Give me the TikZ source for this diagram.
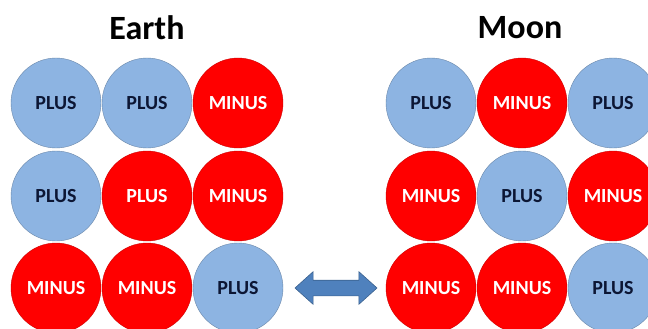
\documentclass[tikz,border=0pt]{standalone}
\usepackage{fontspec}
\setmainfont{Carlito}
\usepackage{tikz}
\usetikzlibrary{arrows.meta}
\usetikzlibrary{calc}
\usetikzlibrary{shapes}

\definecolor{plusblue}{RGB}{141,180,226}
\definecolor{plustext}{RGB}{12,22,52}
\definecolor{minusred}{RGB}{255,0,0}
\definecolor{arrowblue}{RGB}{79,129,189}

\begin{document}
\begin{tikzpicture}[x=1pt, y=-1pt,
        plus_style/.style={circle,draw=plusblue!75!black,line width=0.4pt,fill=plusblue,minimum size=90pt,inner sep=0pt,text=plustext,font=\bfseries\fontsize{20}{20}\selectfont},
        minus_style/.style={circle,draw=minusred!80!black,line width=0.4pt,fill=minusred,minimum size=90pt,inner sep=0pt,text=white,font=\bfseries\fontsize{20}{20}\selectfont},
        title_style/.style={font=\bfseries\fontsize{34}{34}\selectfont},
        swap_style/.style={double arrow,draw=arrowblue!75!black,fill=arrowblue,line width=0.6pt,minimum height=82pt,text height=15pt,text depth=0pt,inner sep=0pt,double arrow head extend=8.5pt,double arrow tip angle=84}]

        \clip (0,0) rectangle (648,329);

        % Earth
        \node [title_style](earth) at (147,28) {Earth};

        \node [plus_style](e1) at (56,103) {PLUS};

        \node [plus_style](e2) at (147,103) {PLUS};

        \node [minus_style](e3) at (238,103) {MINUS};

        \node [plus_style](e4) at (56,196) {PLUS};

        \node [minus_style](e5) at (147,196) {PLUS};

        \node [minus_style](e6) at (238,196) {MINUS};

        \node [minus_style](e7) at (56,288) {MINUS};

        \node [minus_style](e8) at (147,288) {MINUS};

        \node [plus_style](e9) at (238,288) {PLUS};

        % Moon
        \node [title_style](moon) at (520,28) {Moon};

        \node [plus_style](m1) at (431,103) {PLUS};

        \node [minus_style](m2) at (522,103) {MINUS};

        \node [plus_style](m3) at (613,103) {PLUS};

        \node [minus_style](m4) at (431,196) {MINUS};

        \node [plus_style](m5) at (522,196) {PLUS};

        \node [minus_style](m6) at (613,196) {MINUS};

        \node [minus_style](m7) at (431,288) {MINUS};

        \node [minus_style](m8) at (522,288) {MINUS};

        \node [plus_style](m9) at (613,288) {PLUS};

        \node [swap_style](swap) at (336,288) {};

        \end{tikzpicture}
\end{document}
